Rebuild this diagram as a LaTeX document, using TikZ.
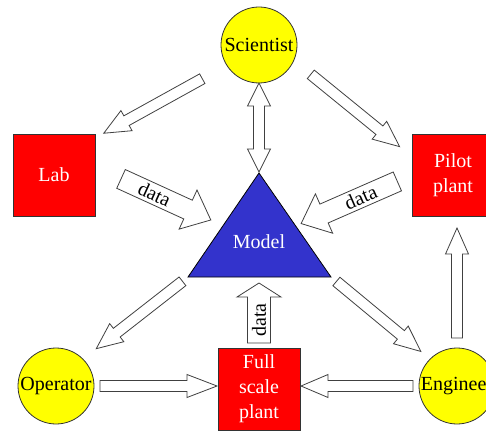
\documentclass[tikz,border=0pt]{standalone}
\usepackage{fontspec}
\setmainfont{Liberation Serif}
\usetikzlibrary{calc}

\definecolor{plantred}{RGB}{255,0,0}
\definecolor{personyellow}{RGB}{255,255,0}
\definecolor{modelblue}{RGB}{51,51,204}

\begin{document}
\begin{tikzpicture}[
        x=1pt, y=-1pt,
        every node/.style={font=\fontsize{20}{25}\selectfont},
        person/.style={circle, draw=black!80, fill=personyellow, line width=0.8pt,
                       minimum size=76pt, inner sep=0pt, outer sep=0pt},
        plant/.style={rectangle, draw=black!80, fill=plantred, line width=0.8pt, text=white,
                      align=center, minimum width=82pt, minimum height=82pt, inner sep=0pt, outer sep=0pt},
        fa shaft/.store in=\fashaft, fa head/.store in=\fahead, fa len/.store in=\falen,
        fa from/.store in=\fafrom, fa to/.store in=\fato,
        fa shaft=5.5pt, fa head=11.5pt, fa len=26pt, fa from=0pt, fa to=0pt,
        fat/.style={draw=black!75, fill=white, line width=0.8pt, to path={
            ($(\tikztostart)!\fafrom!(\tikztotarget)$) coordinate (fa)
            ($(\tikztotarget)!\fato!(\tikztostart)$) coordinate (fb)
            ($(fb)!\falen!(fa)$) coordinate (fc)
            ($(fa)!\fashaft!90:(fb)$) -- ($(fc)!\fashaft!-90:(fa)$)
            -- ($(fc)!\fahead!-90:(fa)$) -- (fb)
            -- ($(fc)!\fahead!90:(fa)$) -- ($(fc)!\fashaft!90:(fa)$)
            -- ($(fa)!\fashaft!-90:(fb)$) -- cycle}},
        fatboth/.style={draw=black!75, fill=white, line width=0.8pt, to path={
            ($(\tikztostart)!\fafrom!(\tikztotarget)$) coordinate (fa)
            ($(\tikztotarget)!\fato!(\tikztostart)$) coordinate (fb)
            ($(fa)!\falen!(fb)$) coordinate (fd)
            ($(fb)!\falen!(fa)$) coordinate (fc)
            (fa) -- ($(fd)!\fahead!-90:(fb)$) -- ($(fd)!\fashaft!-90:(fb)$)
            -- ($(fc)!\fashaft!90:(fa)$) -- ($(fc)!\fahead!90:(fa)$) -- (fb)
            -- ($(fc)!\fahead!-90:(fa)$) -- ($(fc)!\fashaft!-90:(fa)$)
            -- ($(fd)!\fashaft!90:(fb)$) -- ($(fd)!\fahead!90:(fb)$) -- cycle}},
        datafat/.style={fat, fa shaft=10.3pt, fa head=21.5pt, fa len=25pt},
        datalabel/.style={sloped, midway, inner sep=0pt}
      ]
      \useasboundingbox (0,0) rectangle (486,430);
      \clip (0,0) rectangle (486,430);

      % people and plants
      \node (sci) [person] at (259,45) {Scientist};
      \node (op) [person] at (56,386) {Operator};
      \node (eng) [person] at (457,386) {Engineer};
      \node (lab) [plant] at (54,175) {Lab};
      \node (pilot) [plant] at (453,175) {Pilot\\plant};
      \node (full) [plant] at (259,389) {Full\\scale\\plant};

      % the model triangle
      \coordinate (mtop) at (259,173);
      \coordinate (mbl) at (188,277);
      \coordinate (mbr) at (331,277);
      \draw [black, fill=modelblue, line width=0.8pt] (mtop) -- (mbl) -- (mbr) -- cycle;
      \node (model) [text=white] at (259,242) {Model};

      % block arrows
      \draw [fat, fa from=28pt, fa to=10pt] (sci.212) to (lab.42);
      \draw [fat, fa from=22pt, fa to=16pt] (sci.336) to (pilot.156);
      \draw [fatboth, fa len=23pt, fa to=1pt] (sci.south) to (mtop);
      \draw [datafat, fa from=28.6pt, fa to=53pt] (lab.11) to (model);
      \path (fa) -- (fc) node [datalabel] {data};
      \draw [datafat, fa from=16pt, fa to=46pt] (pilot.west) to (model);
      \path (fa) -- (fc) node [datalabel] {data};
      \draw [datafat, fa shaft=11.5pt, fa head=22pt, fa len=14pt, fa from=5pt, fa to=41pt] (full.north) to (model);
      \path (fa) -- (fc) node [datalabel] {data};
      \draw [fat, fa from=7pt, fa to=17pt] (mbl) to (op.45);
      \draw [fat, fa from=7pt, fa to=12pt] (mbr) to (eng.135);
      \draw [fat, fa len=30pt, fa from=6pt, fa to=1pt] (op.east) to (op.east -| full.west);
      \draw [fat, fa len=27pt, fa from=6pt, fa to=1pt] (eng.west) to (eng.west -| full.east);
      \draw [fat, fa from=10pt, fa to=12pt] (eng.north) to (eng.north |- pilot.south);

    \end{tikzpicture}
\end{document}
